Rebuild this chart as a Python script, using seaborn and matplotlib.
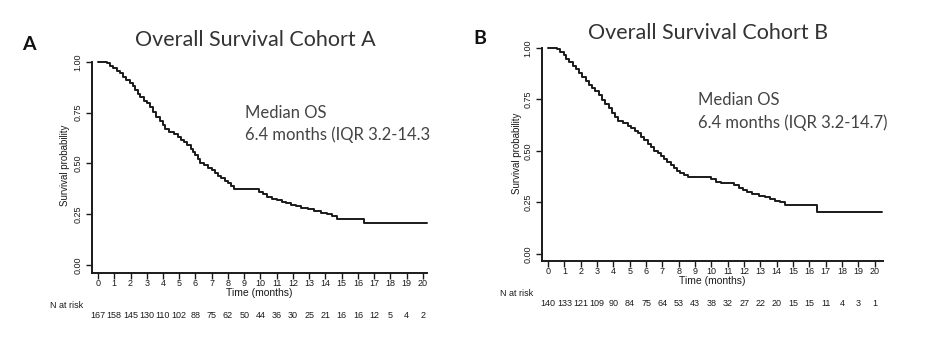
import numpy as np
import pandas as pd
import matplotlib
matplotlib.use("Agg")
import matplotlib.pyplot as plt
import matplotlib.transforms as mtransforms
import seaborn as sns

# ---------------- data ----------------
months = list(range(0, 21))

time_a = [0, 0.55, 0.75, 0.95, 1.15, 1.35, 1.55, 1.75, 1.95, 2.15, 2.3, 2.45, 2.6, 2.8,
          3.0, 3.2, 3.4, 3.6, 3.8, 4.0, 4.15, 4.4, 4.65, 4.9, 5.1, 5.3, 5.5, 5.7, 5.85,
          6.0, 6.15, 6.3, 6.5, 6.75, 7.0, 7.2, 7.4, 7.6, 7.8, 8.0, 8.2, 8.4, 9.9, 10.15,
          10.4, 10.7, 11.0, 11.3, 11.6, 11.9, 12.2, 12.5, 12.9, 13.3, 13.7, 14.1, 14.4,
          14.7, 16.4, 20.25]
surv_a = [1.0, 0.994, 0.982, 0.97, 0.958, 0.946, 0.928, 0.91, 0.898, 0.88, 0.86, 0.84,
          0.826, 0.81, 0.796, 0.776, 0.752, 0.73, 0.71, 0.688, 0.668, 0.656, 0.644, 0.628,
          0.616, 0.604, 0.59, 0.572, 0.556, 0.54, 0.52, 0.502, 0.49, 0.478, 0.466, 0.452,
          0.44, 0.428, 0.414, 0.402, 0.388, 0.372, 0.36, 0.348, 0.336, 0.326, 0.32, 0.312,
          0.304, 0.296, 0.288, 0.282, 0.274, 0.266, 0.258, 0.25, 0.24, 0.228, 0.204, 0.204]

time_b = [0, 0.55, 0.75, 0.95, 1.1, 1.3, 1.5, 1.7, 1.9, 2.1, 2.3, 2.5, 2.7, 2.9, 3.1,
          3.3, 3.5, 3.7, 3.9, 4.1, 4.3, 4.6, 4.9, 5.1, 5.3, 5.5, 5.7, 5.9, 6.1, 6.3, 6.5,
          6.7, 6.9, 7.1, 7.3, 7.5, 7.7, 7.9, 8.1, 8.3, 8.55, 10.0, 10.3, 10.6, 11.4, 11.7,
          11.95, 12.2, 12.5, 12.9, 13.3, 13.6, 13.9, 14.2, 14.5, 14.7, 16.45, 20.45]
surv_b = [1.0, 0.994, 0.98, 0.964, 0.948, 0.93, 0.912, 0.896, 0.88, 0.86, 0.838, 0.822,
          0.808, 0.79, 0.77, 0.748, 0.728, 0.708, 0.686, 0.664, 0.648, 0.636, 0.622, 0.61,
          0.598, 0.586, 0.568, 0.552, 0.536, 0.518, 0.5, 0.488, 0.474, 0.46, 0.446, 0.432,
          0.418, 0.404, 0.394, 0.384, 0.374, 0.362, 0.35, 0.344, 0.334, 0.322, 0.31, 0.3,
          0.29, 0.282, 0.276, 0.266, 0.258, 0.25, 0.24, 0.238, 0.206, 0.206]

risk_a = [167, 158, 145, 130, 110, 102, 88, 75, 62, 50, 44, 36, 30, 25, 21, 16, 16, 12, 5, 4, 2]
risk_b = [140, 133, 121, 109, 90, 84, 75, 64, 53, 43, 38, 32, 27, 22, 20, 15, 15, 11, 4, 3, 1]

yticks = [0.0, 0.25, 0.5, 0.75, 1.0]
ytick_labels = ["0.00", "0.25", "0.50", "0.75", "1.00"]

# ---------------- figure ----------------
sns.set_style("ticks")
plt.rcParams["font.family"] = ["Liberation Sans", "DejaVu Sans"]

W, H = 933, 339
fig = plt.figure(figsize=(W / 100, H / 100), dpi=100)
fig.patch.set_facecolor("white")

def fx(x):
    return x / W

def fy(y):
    return 1 - y / H

title_font = ["Lato", "DejaVu Sans"]
tick_color = "#1a1a1a"

panels = [
    dict(rect=(92, 62, 427, 273), time=time_a, surv=surv_a, risk=risk_a,
         xlim=(-0.37, 20.25), ylim=(-0.04, 1.0),
         letter="A", letter_xy=(22, 45), title="Overall Survival Cohort A", title_xy=(255, 40),
         med_xy=(245, 113), med2="6.4 months (IQR 3.2-14.3", med2_xy=(245, 135),
         ylab_xy=(65, 165), ytl_x=78, tl_y=284, xlab_y=293, nrisk_xy=(50, 306), risk_y=315),
    dict(rect=(542, 48, 883, 261), time=time_b, surv=surv_b, risk=risk_b,
         xlim=(-0.37, 20.5), ylim=(-0.034, 1.0),
         letter="B", letter_xy=(473, 38), title="Overall Survival Cohort B", title_xy=(708, 33),
         med_xy=(698, 100), med2="6.4 months (IQR 3.2-14.7)", med2_xy=(698, 123),
         ylab_xy=(517, 153), ytl_x=528, tl_y=272, xlab_y=281, nrisk_xy=(500, 293), risk_y=303),
]

for p in panels:
    l, t, r, b = p["rect"]
    ax = fig.add_axes([fx(l), fy(b), fx(r) - fx(l), fy(t) - fy(b)])
    df = pd.DataFrame({"time": p["time"], "surv": p["surv"]})
    sns.lineplot(data=df, x="time", y="surv", ax=ax, drawstyle="steps-post",
                 color="#1a1a1a", linewidth=1.4, sort=True, clip_on=False)
    ax.set_xlim(*p["xlim"])
    ax.set_ylim(*p["ylim"])
    sns.despine(ax=ax)
    for s in ("left", "bottom"):
        ax.spines[s].set_linewidth(1.4)
        ax.spines[s].set_color("#1a1a1a")
    ax.spines["left"].set_bounds(p["ylim"][0], 1.0)
    ax.set_xticks(months)
    ax.set_xticklabels([])
    ax.set_yticks(yticks)
    ax.set_yticklabels([])
    ax.tick_params(axis="both", length=4, width=1.0, color="#1a1a1a")
    ax.set_xlabel("")
    ax.set_ylabel("")
    ax.set_facecolor("white")

    trans_x = mtransforms.blended_transform_factory(ax.transData, fig.transFigure)
    trans_y = mtransforms.blended_transform_factory(fig.transFigure, ax.transData)
    for m in months:
        ax.text(m, fy(p["tl_y"]), str(m), transform=trans_x, ha="center", va="center",
                fontsize=6.5, color=tick_color)
    for v, lab in zip(yticks, ytick_labels):
        ax.text(fx(p["ytl_x"]), v, lab, transform=trans_y, ha="center", va="center",
                rotation=90, fontsize=6.5, color=tick_color)
    for m, n in zip(months, p["risk"]):
        ax.text(m, fy(p["risk_y"]), str(n), transform=trans_x, ha="center", va="center",
                fontsize=6.5, color=tick_color)

    xmid = (fx(l) + fx(r)) / 2
    fig.text(xmid, fy(p["xlab_y"]), "Time (months)", ha="center", va="center",
             fontsize=7.5, color=tick_color)
    fig.text(fx(p["ylab_xy"][0]), fy(p["ylab_xy"][1]), "Survival probability", ha="center",
             va="center", rotation=90, fontsize=7, color=tick_color)
    fig.text(fx(p["nrisk_xy"][0]), fy(p["nrisk_xy"][1]), "N at risk", ha="left",
             va="center", fontsize=6.5, color=tick_color)

    fig.text(fx(p["letter_xy"][0]), fy(p["letter_xy"][1]), p["letter"], ha="left",
             va="center", fontsize=14, fontweight="bold", color="#111111", family=title_font)
    fig.text(fx(p["title_xy"][0]), fy(p["title_xy"][1]), p["title"], ha="center",
             va="center", fontsize=15.5, color="#333333", family=title_font)
    fig.text(fx(p["med_xy"][0]), fy(p["med_xy"][1]), "Median OS", ha="left",
             va="center", fontsize=12, color="#444444", family=title_font)
    fig.text(fx(p["med2_xy"][0]), fy(p["med2_xy"][1]), p["med2"], ha="left",
             va="center", fontsize=12, color="#444444", family=title_font)

fig.savefig("out.png", dpi=100, facecolor="white")
